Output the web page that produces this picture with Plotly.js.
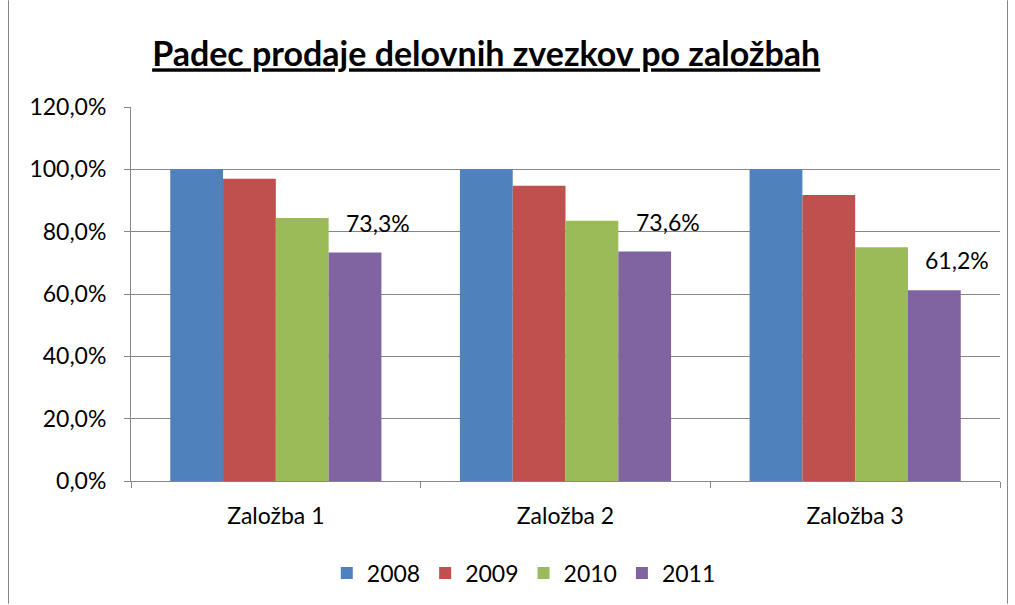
<!DOCTYPE html>
<html>
<head>
<meta charset="utf-8">
<script src="https://cdn.plot.ly/plotly-3.0.1.min.js"></script>
<style>html,body{margin:0;padding:0;background:#fff;}#chart{width:1015px;height:605px;}</style>
</head>
<body>
<div id="chart"></div>
<script>
const categories = ["Založba 1", "Založba 2", "Založba 3"];
const years = ["2008", "2009", "2010", "2011"];
const v2008 = [1.0, 1.0, 1.0];
const v2009 = [0.97, 0.947, 0.918];
const v2010 = [0.844, 0.835, 0.75];
const v2011 = [0.733, 0.736, 0.612];
const colors = ["#4F81BD", "#C0504D", "#9BBB59", "#8064A2"];

const series = [v2008, v2009, v2010, v2011];
const font = "Lato, 'Open Sans', sans-serif";

const traces = series.map((vals, i) => ({
  type: "bar",
  name: years[i],
  x: categories,
  y: vals,
  marker: {color: colors[i]},
  hoverinfo: "skip"
}));

const fmt = v => (v * 100).toFixed(1).replace(".", ",") + "%";
const annotations = categories.map((c, i) => ({
  x: c, y: v2011[i], xref: "x", yref: "y",
  text: fmt(v2011[i]), showarrow: false,
  xshift: 102, yanchor: "bottom", yshift: 14,
  font: {family: font, size: 23, color: "#000"}
}));

const L = 131, W = 869;
const shapes = [
  {type: "line", xref: "paper", yref: "paper", x0: (8.5-L)/W, x1: (8.5-L)/W, y0: (482-0)/375, y1: (482-605)/375, line: {color: "#868686", width: 1}},
  {type: "line", xref: "paper", yref: "paper", x0: (1007.5-L)/W, x1: (1007.5-L)/W, y0: (482-0)/375, y1: (482-605)/375, line: {color: "#868686", width: 1}}
];

const layout = {
  width: 1015, height: 605,
  margin: {l: 131, r: 15, t: 107, b: 123},
  paper_bgcolor: "#fff", plot_bgcolor: "#fff",
  barmode: "group", bargap: 0.271, bargroupgap: 0,
  title: {text: "<b><u>Padec prodaje delovnih zvezkov po založbah</u></b>", x: 0.479, xanchor: "center", y: 0.91, yanchor: "middle", font: {family: font, size: 34, color: "#000"}},
  xaxis: {type: "category", showline: true, linecolor: "#868686", ticks: "outside", tickson: "boundaries", ticklen: 6, tickcolor: "#868686", showgrid: false, ticklabelstandoff: 14, tickfont: {family: font, size: 23, color: "#000"}},
  yaxis: {range: [0, 1.2], dtick: 0.2, tick0: 0, tickformat: ".1%", showline: true, linecolor: "#868686", ticks: "outside", ticklen: 6, tickcolor: "#868686", gridcolor: "#868686", gridwidth: 1, zeroline: false, ticklabelstandoff: 13, tickfont: {family: font, size: 23, color: "#000"}},
  separators: ",.",
  showlegend: true,
  legend: {orientation: "h", x: 0.452, xanchor: "center", y: -0.243, yanchor: "middle", font: {family: font, size: 23, color: "#000"}, traceorder: "normal"},
  annotations: annotations,
  shapes: shapes
};

Plotly.newPlot("chart", traces, layout, {staticPlot: true, displayModeBar: false});
</script>
</body>
</html>
